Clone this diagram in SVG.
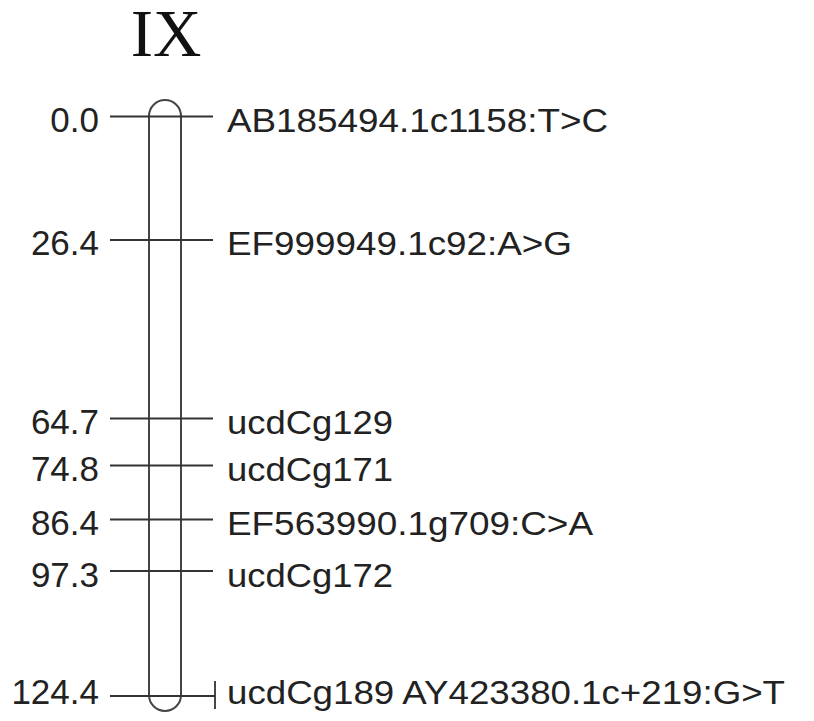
<svg xmlns="http://www.w3.org/2000/svg" width="814" height="721" viewBox="0 0 814 721">
<style>
.num{font-family:"Liberation Sans",Arial,sans-serif;font-size:35px;fill:#222;text-anchor:end}
.lab{font-family:"Liberation Sans",Arial,sans-serif;font-size:34px;fill:#222}
.tick{stroke:#333;stroke-width:1.8;fill:none}
.chr{stroke:#444;stroke-width:2;fill:none}
</style>
<rect width="814" height="721" fill="#fff"/>
<text x="166" y="56" font-family="'Liberation Serif','Times New Roman',serif" font-size="67" fill="#111" text-anchor="middle">IX</text>
<g id="chromosome"><rect class="chr" x="149" y="100" width="32" height="611" rx="16" ry="16"/></g>
<g id="connectors">
<line class="tick" x1="110" y1="116.5" x2="213" y2="116.5"/>
<line class="tick" x1="110" y1="240" x2="213" y2="240"/>
<line class="tick" x1="110" y1="418.5" x2="213" y2="418.5"/>
<line class="tick" x1="110" y1="465.5" x2="213" y2="465.5"/>
<line class="tick" x1="110" y1="519.5" x2="213" y2="519.5"/>
<line class="tick" x1="110" y1="571" x2="213" y2="571"/>
<line class="tick" x1="110" y1="696" x2="215" y2="696"/>
<line class="tick" x1="215" y1="681" x2="215" y2="709"/>
</g>
<g id="m0"><text class="num" x="99" y="132">0.0</text><text class="lab" x="227" y="132" textLength="381" lengthAdjust="spacingAndGlyphs">AB185494.1c1158:T&gt;C</text></g>
<g id="m1"><text class="num" x="99" y="255">26.4</text><text class="lab" x="227" y="255" textLength="345" lengthAdjust="spacingAndGlyphs">EF999949.1c92:A&gt;G</text></g>
<g id="m2"><text class="num" x="99" y="433.5">64.7</text><text class="lab" x="227" y="433.5" textLength="166" lengthAdjust="spacingAndGlyphs">ucdCg129</text></g>
<g id="m3"><text class="num" x="99" y="481">74.8</text><text class="lab" x="227" y="481" textLength="166" lengthAdjust="spacingAndGlyphs">ucdCg171</text></g>
<g id="m4"><text class="num" x="99" y="535">86.4</text><text class="lab" x="227" y="535" textLength="366" lengthAdjust="spacingAndGlyphs">EF563990.1g709:C&gt;A</text></g>
<g id="m5"><text class="num" x="99" y="586.5">97.3</text><text class="lab" x="227" y="586.5" textLength="166" lengthAdjust="spacingAndGlyphs">ucdCg172</text></g>
<g id="m6"><text class="num" x="99" y="704">124.4</text><text class="lab" x="227" y="704" textLength="558" lengthAdjust="spacingAndGlyphs">ucdCg189 AY423380.1c+219:G&gt;T</text></g>
</svg>
